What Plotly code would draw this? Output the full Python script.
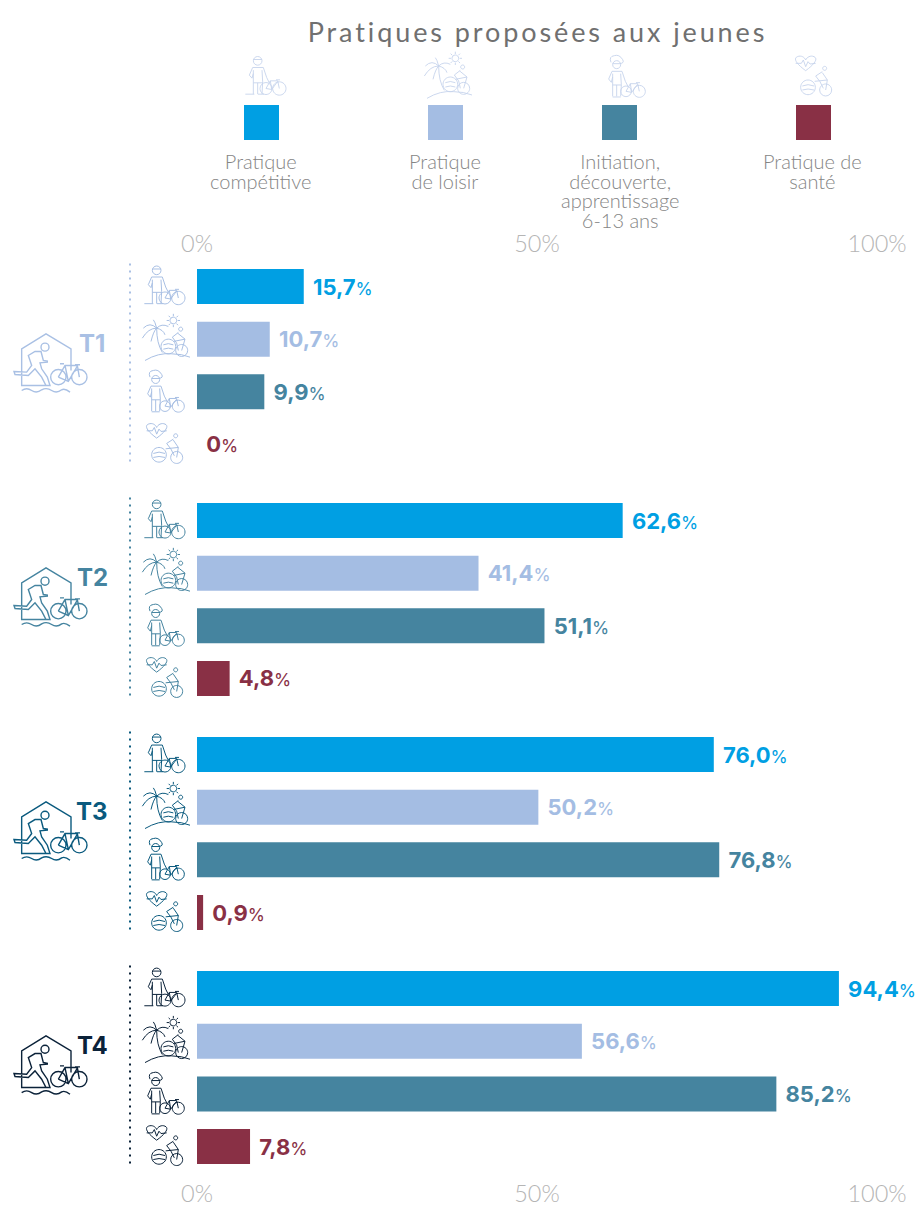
import re
import math
import plotly.graph_objects as go

W, H = 916, 1206

# Values
tiers = ["T1", "T2", "T3", "T4"]
tier_colors = ["#A9C0E4", "#4584A0", "#0A5A7E", "#0B2239"]
competitive = [15.7, 62.6, 76.0, 94.4]
leisure = [10.7, 41.4, 50.2, 56.6]
initiation = [9.9, 51.1, 76.8, 85.2]
health = [0, 4.8, 0.9, 7.8]
tick_values = [0, 50, 100]
tick_labels = ["0%", "50%", "100%"]
title_text = "Pratiques proposées aux jeunes"

series_names = ["Pratique compétitive", "Pratique de loisir", "Initiation", "Pratique de santé"]
series_values = [competitive, leisure, initiation, health]
series_colors = ["#009FE3", "#A4BDE3", "#45849F", "#893045"]
legend_labels = [
    "Pratique<br>compétitive",
    "Pratique<br>de loisir",
    "Initiation,<br>découverte,<br>apprentissage<br>6-13 ans",
    "Pratique de<br>santé",
]

LIGHT = "Lato"
BOLD = "Inter"
ROW_PX = 52.65
GROUP_STEP = 4.445
FIRST_ROW_PX = 286.5
PLOT_TOP, PLOT_BOTTOM = 262, 1172
X0_PX, X100_PX = 197, 877


def circle(cx, cy, r):
    k = 0.5523 * r
    return (
        f"M{cx + r},{cy} C{cx + r},{cy + k} {cx + k},{cy + r} {cx},{cy + r} "
        f"C{cx - k},{cy + r} {cx - r},{cy + k} {cx - r},{cy} "
        f"C{cx - r},{cy - k} {cx - k},{cy - r} {cx},{cy - r} "
        f"C{cx + k},{cy - r} {cx + r},{cy - k} {cx + r},{cy} Z"
    )


def sun_rays(cx, cy, r0, r1):
    parts = []
    for i in range(8):
        a = i * math.pi / 4
        parts.append(
            f"M{cx + r0 * math.cos(a):.1f},{cy + r0 * math.sin(a):.1f} "
            f"L{cx + r1 * math.cos(a):.1f},{cy + r1 * math.sin(a):.1f}"
        )
    return " ".join(parts)


# Line icons, drawn in a 3-units-per-pixel design space
def road_bike(rx, ry, rr, fx, fy, fr):
    return " ".join([
        circle(rx, ry, rr), circle(fx, fy, fr),
        f"M{rx},{ry} L{rx + 13},{ry - 23} L{fx - 5},{fy - 23} L{fx},{fy}",
        f"M{rx},{ry} L{rx + 17},{ry + 3} L{fx - 5},{fy - 21}",
        f"M{rx + 13},{ry - 23} L{rx + 17},{ry + 3}",
        f"M{fx - 10},{fy - 26} L{fx + 2},{fy - 26}",
    ])


ICON_COMPETITIVE = (87, 70.5, " ".join([
    circle(65, 22, 13), "M52,18 L78,18",
    "M50,42 L82,42 L92,72 L100,88", "M50,42 L40,65 L48,74 L52,60",
    "M52,50 L52,122 M78,50 L80,85 L78,122 M65,88 L65,122 M52,88 L80,88",
    "M28,122 L55,122 M66,122 L84,122",
    road_bike(90, 105, 18, 130, 105, 20),
]))

ICON_LEISURE = (87, 228, " ".join([
    "M65,195 Q65,240 82,268",
    "M65,195 Q45,175 25,195 M65,195 Q40,195 22,225 M65,195 Q55,205 48,235",
    "M65,195 Q80,180 100,190 M65,195 Q60,175 55,170 M65,195 Q85,200 90,215",
    circle(115, 172, 10), sun_rays(115, 172, 13, 20),
    circle(137, 198, 6),
    "M130,208 L112,222 L125,240 L130,262 M128,210 L150,228",
    circle(100, 250, 22), "M85,245 Q100,238 115,245 M85,258 Q100,252 115,258",
    circle(140, 262, 18), "M115,235 L150,228 L140,262",
    "M30,292 Q70,268 110,272 Q140,272 165,282",
]))

ICON_INITIATION = (87, 72, " ".join([
    "M45,28 Q38,10 55,8 Q70,3 80,20 Q86,30 72,32", circle(62, 35, 12),
    "M50,32 L74,32",
    "M48,55 L78,55 L88,85 L96,100", "M48,55 L38,78 L46,88 L50,72",
    "M50,62 L50,130 M74,62 L76,95 L74,130 M62,96 L62,130 M50,96 L76,96",
    "M50,132 L74,132",
    road_bike(90, 115, 16, 130, 115, 18),
]))

ICON_HEALTH = (87, 231, " ".join([
    "M65,212 C35,190 28,175 40,170 C52,165 62,172 65,180 "
    "C68,172 80,165 90,170 C102,175 95,190 65,212 Z",
    "M35,190 L52,190 L58,180 L65,200 L72,185 L78,192 L95,190",
    circle(122, 205, 6),
    "M115,215 L95,228 L108,245 L118,265 M115,218 L130,240",
    circle(72, 262, 22), "M55,258 Q72,250 90,258 M55,270 Q72,264 90,270",
    circle(125, 270, 18), "M92,244 L130,240 L125,270",
]))

ICON_TRIATHLON = (133, 127, " ".join([
    "M130,190 L45,190 L45,80 L118,35 L193,80 L193,145",
    circle(115, 75, 12),
    "M22,148 L60,150 L75,130 L70,115 L65,100 L85,88 L103,88 L110,115 L122,117 "
    "L122,120 L100,122 L105,140 L122,165 L130,190 L118,190 L105,165 L85,140 L65,160 L25,157 Z",
    circle(155, 165, 23), circle(218, 165, 23),
    "M155,165 L175,130 L212,130 L218,165 M155,165 L185,178 L212,132 M175,130 L185,178",
    "M160,125 L172,125 M205,128 L220,128",
    "M45,205 Q60,195 75,205 Q90,215 105,203 Q120,195 135,205 Q150,215 165,203 Q175,198 190,210",
]))


def icon_shape(icon, cx, cy, color, width=1.0):
    ox, oy, path = icon

    def convert(m):
        x = cx + (float(m.group(1)) - ox) / 3
        y = cy + (float(m.group(2)) - oy) / 3
        return f"{x / W:.5f},{1 - y / H:.5f}"

    return dict(
        type="path", xref="paper", yref="paper",
        path=re.sub(r"(-?[\d.]+),(-?[\d.]+)", convert, path),
        line=dict(color=color, width=width),
    )


def label(text, x, y, size, color, family=LIGHT, weight=300, yanchor="middle"):
    return dict(
        text=text, x=x / W, y=1 - y / H, xref="paper", yref="paper",
        xanchor="center", yanchor=yanchor, showarrow=False,
        font=dict(family=family, size=size, color=color, weight=weight),
    )


def value_text(v):
    number = "0" if v == 0 else f"{v:.1f}".replace(".", ",")
    return f"\u00a0<b>{number}</b><span style='font-size:17.5px'>%</span>"


def row_position(group, row):
    return group * GROUP_STEP + row


fig = go.Figure()

for s, (name, values, color) in enumerate(zip(series_names, series_values, series_colors)):
    fig.add_trace(go.Bar(
        name=name, orientation="h", x=values,
        y=[row_position(g, s) for g in range(len(tiers))],
        width=0.665, marker=dict(color=color, line=dict(width=0)),
        text=[value_text(v) for v in values], textposition="outside",
        textfont=dict(family=BOLD, size=22, color=color),
        constraintext="none", cliponaxis=False, showlegend=False, hoverinfo="skip",
    ))

# Carries the duplicate percentage scale along the top edge
fig.add_trace(go.Scatter(x=[None], y=[None], xaxis="x2", showlegend=False, hoverinfo="skip"))

shapes, annotations = [], []

# Title and legend block
annotations.append(label(title_text, 537, 31, 27, "#707070", weight=400))
legend_icons = [ICON_COMPETITIVE, ICON_LEISURE, ICON_INITIATION, ICON_HEALTH]
for icon, icon_x, swatch_x, text_x, color, text in zip(
    legend_icons, [265, 446, 625, 813], [244, 428, 602, 796], [260, 445, 620, 812],
    series_colors, legend_labels,
):
    shapes.append(icon_shape(icon, icon_x, 77, "#C6D4EC", 0.9))
    shapes.append(dict(
        type="rect", xref="paper", yref="paper", line=dict(width=0), fillcolor=color,
        x0=swatch_x / W, x1=(swatch_x + 35) / W, y0=1 - 140 / H, y1=1 - 105 / H,
    ))
    annotations.append(label(text, text_x, 147, 20, "#858585", yanchor="top"))

# Tier column: pictogram, tier name, dotted rule and one pictogram per row
for g, (tier, color) in enumerate(zip(tiers, tier_colors)):
    group_top = FIRST_ROW_PX + row_position(g, 0) * ROW_PX
    middle = group_top + 1.5 * ROW_PX
    shapes.append(icon_shape(ICON_TRIATHLON, 51, middle - 1, color, 1.4))
    annotations.append(label(f"<b>{tier}</b>", 92, middle - 22, 24, color, BOLD, 400))
    shapes.append(dict(
        type="line", xref="paper", yref="paper",
        x0=130 / W, x1=130 / W, y0=1 - (group_top - 23) / H, y1=1 - (group_top + 177) / H,
        line=dict(color=color, width=2, dash="2px,5px"),
    ))
    for r, icon in enumerate(legend_icons):
        shapes.append(icon_shape(icon, 164, group_top + r * ROW_PX, color, 1.0))

axis_style = dict(
    range=[0, 100], domain=[X0_PX / W, X100_PX / W],
    tickmode="array", tickvals=tick_values, ticktext=tick_labels,
    tickfont=dict(family=LIGHT, size=23.5, color="#B5B5B5", weight=300),
    showgrid=False, zeroline=False, showline=False, ticks="",
)

fig.update_layout(
    width=W, height=H, autosize=False,
    margin=dict(l=0, r=0, t=0, b=0, autoexpand=False),
    paper_bgcolor="white", plot_bgcolor="white",
    barmode="overlay",
    shapes=shapes, annotations=annotations,
    xaxis=dict(side="bottom", ticklabelstandoff=5, **axis_style),
    xaxis2=dict(side="top", overlaying="x", anchor="y", ticklabelstandoff=4, **axis_style),
    yaxis=dict(
        visible=False,
        range=[(PLOT_BOTTOM - FIRST_ROW_PX) / ROW_PX, (PLOT_TOP - FIRST_ROW_PX) / ROW_PX],
        domain=[1 - PLOT_BOTTOM / H, 1 - PLOT_TOP / H],
    ),
)

# Tracked heading and tight leading on the multi-line legend labels
typography = """
document.querySelectorAll('.annotation-text').forEach(function (t) {
  if (t.textContent.indexOf('Pratiques propos') === 0) { t.style.letterSpacing = '2.9px'; }
  t.querySelectorAll('tspan.line').forEach(function (line) {
    line.setAttribute('dy', (parseFloat(line.getAttribute('dy')) * 0.75) + 'em');
  });
});
"""

fig.write_html("out.html", post_script=typography, config={"displayModeBar": False})
